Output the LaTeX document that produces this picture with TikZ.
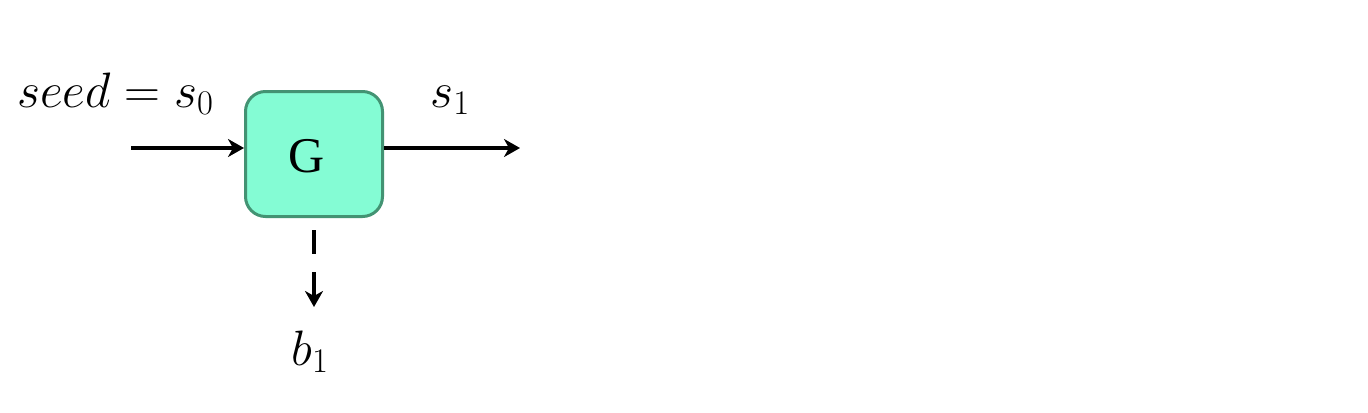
\documentclass[tikz,border=0pt]{standalone}
\usepackage{fontspec}
\newfontfamily\gserif{Liberation Serif}
\usetikzlibrary{arrows.meta}
\definecolor{boxfill}{RGB}{132,252,212}
\definecolor{boxline}{RGB}{67,147,115}
\tikzset{
  gbox/.style={draw=boxline, fill=boxfill, line width=1.5pt, rounded corners=10pt,
    minimum width=68.5pt, minimum height=62.5pt, inner sep=0pt},
  flow/.style={line width=2.2pt, -{Stealth[length=8pt,width=9pt,inset=2.5pt]}},
  lbl/.style={anchor=base west, inner sep=0pt, font=\fontsize{24}{28}\selectfont},
}
\begin{document}
\begin{tikzpicture}[x=0.5pt,y=-0.5pt]
\useasboundingbox (0,0) rectangle (1368,412);
\node[gbox] (G) at (314,154) {};
\node[inner sep=0pt, font=\gserif\fontsize{25}{30}\selectfont] (Gt) at (307,156) {G};
\coordinate (in) at (131,148);
\coordinate (out) at (520,148);
\coordinate (down) at (314,307);
\draw[flow] (in) -- (in -| G.west);
\draw[flow] (out -| G.east) -- (out);
\draw[flow, dash pattern=on 12pt off 9pt, shorten <=6pt] (G.south) -- (down);
\node[lbl] (seed) at (17,107) {$seed=s_0$};
\node[lbl] (s1) at (430,107) {$s_1$};
\node[lbl] (b1) at (291,365) {$b_1$};
\end{tikzpicture}
\end{document}
